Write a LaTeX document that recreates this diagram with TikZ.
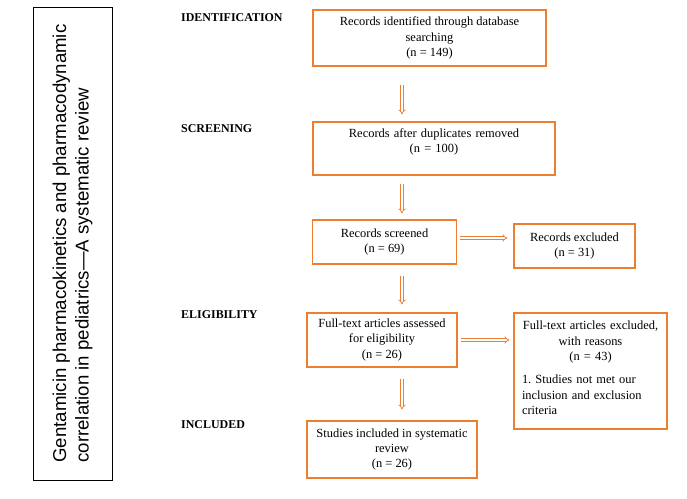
\documentclass[tikz,border=0pt]{standalone}
\usepackage{fontspec}
\setmainfont{Liberation Serif}
\newfontfamily\titlefont{Liberation Sans}
\usetikzlibrary{arrows.meta}
\definecolor{ora}{RGB}{237,125,49}
\frenchspacing
\begin{document}
\begin{tikzpicture}[x=1bp,y=-1bp,
 box/.style={draw=ora, line width=1.1bp, inner sep=2bp, font=\fontsize{12.5}{15.5}\selectfont, align=center},
 stage/.style={font=\fontsize{12}{14}\selectfont\bfseries, anchor=base west, inner sep=0pt},
 arr/.style={draw=ora, double=white, line width=0.7bp, double distance=1.8bp, -{Implies}},
]
\useasboundingbox (0,0) rectangle (687,499);

\node[draw=black, line width=0.8bp, rotate=90, minimum width=473bp, minimum height=79bp,
      align=left, font=\titlefont\fontsize{18.7}{22.5}\selectfont] (title) at (72.5,243.5)
  {Gentamicin pharmacokinetics and pharmacodynamic\\correlation in pediatrics—A systematic review};

\node[stage] (s1) at (181,22) {IDENTIFICATION};
\node[stage] (s2) at (181,133) {SCREENING};
\node[stage] (s3) at (181,318) {ELIGIBILITY};
\node[stage] (s4) at (181,428) {INCLUDED};

\node[box, minimum width=233bp, minimum height=56bp] (b1) at (429.5,38)
  {Records identified through database\\ searching\\ (n = 149)};
\node[box, minimum width=242bp, minimum height=53bp, text width=236bp] (b2) at (434,148.5)
  {Records after duplicates removed\\ (n = 100)\par\kern13bp\hrule height0pt width0pt};
\node[box, minimum width=144bp, minimum height=44bp] (b3) at (384.5,242)
  {Records screened\\ (n = 69)};
\node[box, minimum width=121bp, minimum height=44bp] (b4) at (574.5,246)
  {Records excluded\\ (n = 31)};
\node[box, minimum width=150bp, minimum height=54bp] (b5) at (382,340)
  {Full-text articles assessed\\ for eligibility\\ (n = 26)};
\node[box, minimum width=153bp, minimum height=116bp, text width=137bp, inner xsep=8bp, align=left] (b6) at (590.5,371)
  {{\centering Full-text articles excluded,\\ with reasons\\ (n = 43)\par}\kern7.5bp%
   1. Studies not met our\\ inclusion and exclusion\\ criteria\par\kern6bp\hrule height0pt width0pt};
\node[box, minimum width=170bp, minimum height=57bp] (b7) at (392,449.5)
  {Studies included in systematic\\ review\\ (n = 26)};

\coordinate (col) at (402,0);
\draw[arr, shorten <=18bp, shorten >=7bp] (b1.south -| col) -- (b2.north -| col);
\draw[arr, shorten <=8bp, shorten >=6bp] (b2.south -| col) -- (b3.north -| col);
\draw[arr, shorten <=11bp, shorten >=8bp] (b3.south -| col) -- (b5.north -| col);
\draw[arr, shorten <=11bp, shorten >=11bp] (b5.south -| col) -- (b7.north -| col);
\draw[arr, shorten <=3bp, shorten >=6bp] ([yshift=4bp]b3.east) -- ([yshift=4bp]b3.east -| b4.west);
\draw[arr, shorten <=3bp, shorten >=4bp] (b5.east) -- (b5.east -| b6.west);
\end{tikzpicture}
\end{document}
